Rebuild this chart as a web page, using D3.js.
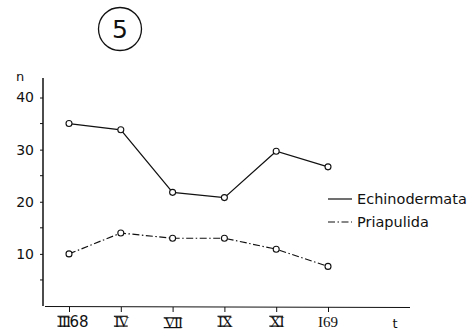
<!DOCTYPE html>
<html><head><meta charset="utf-8">
<script src="https://cdn.jsdelivr.net/npm/d3@7"></script>
<style>body{margin:0;background:#fff}svg{display:block}</style>
</head><body>
<svg id="c" width="472" height="334"></svg>
<script>
const categories = ["III68","IV","VII","IX","XI","I69"];
const romanPart = ["III","IV","VII","IX","XI",""];
const suffixPart = ["68","","","","","I69"];
const echinodermata = [35, 33.8, 21.8, 20.8, 29.7, 26.7];
const priapulida = [10, 14, 13, 13, 10.9, 7.6];
const yTicks = [10, 20, 30, 40];
const yMinor = [5, 15, 25, 35];
const seriesNames = ["Echinodermata", "Priapulida"];

const svg = d3.select("#c");
const font = "'DejaVu Sans', sans-serif";
const serif = "'Liberation Serif', serif";
const x = d3.scalePoint().domain(categories).range([69, 328]);
const y = d3.scaleLinear().domain([0, 40]).range([306, 97.5]);

// panel number
svg.append("circle").attr("cx", 120).attr("cy", 29).attr("r", 21.5)
  .attr("fill", "none").attr("stroke", "#111").attr("stroke-width", 1.3);
svg.append("text").attr("x", 120).attr("y", 38).attr("text-anchor", "middle")
  .attr("font-family", font).attr("font-size", 25).attr("fill", "#111").text("5");

// y axis
const ya = svg.append("g").attr("transform", "translate(43,0)")
  .call(d3.axisLeft(y).tickValues(yTicks).tickSize(3).tickPadding(6).tickFormat(d3.format("d")));
ya.select(".domain").remove();
ya.selectAll("text").attr("font-family", font).attr("font-size", 14).attr("fill", "#111");
ya.selectAll("line").attr("stroke", "#111");
svg.append("g").selectAll("line").data(yMinor).join("line")
  .attr("x1", 40).attr("x2", 43).attr("y1", d => y(d)).attr("y2", d => y(d)).attr("stroke", "#111");
svg.append("line").attr("x1", 43).attr("x2", 43).attr("y1", 78).attr("y2", 306)
  .attr("stroke", "#111").attr("stroke-width", 1.5);
svg.append("text").attr("x", 20).attr("y", 81).attr("text-anchor", "middle")
  .attr("font-family", font).attr("font-size", 13).attr("fill", "#111").text("n");

// x axis
svg.append("line").attr("x1", 45).attr("x2", 410).attr("y1", 306.5).attr("y2", 307.5)
  .attr("stroke", "#111").attr("stroke-width", 1.2);
const xa = svg.append("g").attr("transform", "translate(0,307)")
  .call(d3.axisBottom(x).tickSize(5).tickFormat(""));
xa.select(".domain").remove();
xa.selectAll("line").attr("stroke", "#111");

// tick labels: roman numerals drawn with top/bottom bars
categories.forEach((c, i) => {
  const g = svg.append("g");
  const base = 326.5 + (i === 2 ? 1.5 : 0);
  const r = g.append("text").attr("y", base).attr("font-family", serif)
    .attr("font-size", 15).attr("letter-spacing", -1).attr("fill", "#111").text(romanPart[i]);
  const s = g.append("text").attr("y", base).attr("font-family", i === 5 ? serif : font)
    .attr("font-size", 15).attr("fill", "#111").text(suffixPart[i]);
  const rw = romanPart[i] ? r.node().getComputedTextLength() - 1 : 0;
  const sw = suffixPart[i] ? s.node().getComputedTextLength() : 0;
  const x0 = x(c) - (rw + sw) / 2 + (i === 0 ? 4 : 0);
  r.attr("x", x0);
  s.attr("x", x0 + rw + (i === 0 ? 0.5 : 0));
  if (romanPart[i]) {
    [base - 10.2, base - 0.4].forEach(by => {
      g.append("line").attr("x1", x0 - 0.5).attr("x2", x0 + rw + 0.5)
        .attr("y1", by).attr("y2", by).attr("stroke", "#111").attr("stroke-width", 1.2);
    });
  }
});
svg.append("text").attr("x", 395).attr("y", 328).attr("text-anchor", "middle")
  .attr("font-family", font).attr("font-size", 13).attr("fill", "#111").text("t");

// series
const line = d3.line().x((d, i) => x(categories[i])).y(d => y(d));
const series = [
  {name: seriesNames[0], values: echinodermata, dash: null},
  {name: seriesNames[1], values: priapulida, dash: "7,2.5,1.5,2.5"}
];
series.forEach(s => {
  svg.append("path").datum(s.values).attr("d", line).attr("fill", "none")
    .attr("stroke", "#111").attr("stroke-width", 1.2).attr("stroke-dasharray", s.dash);
  svg.append("g").selectAll("circle").data(s.values).join("circle")
    .attr("cx", (d, i) => x(categories[i])).attr("cy", d => y(d)).attr("r", 3)
    .attr("fill", "#fff").attr("stroke", "#111").attr("stroke-width", 1.1);
});

// legend
series.forEach((s, i) => {
  const ly = 199 + i * 23;
  svg.append("line").attr("x1", 328).attr("x2", 352).attr("y1", ly).attr("y2", ly)
    .attr("stroke", "#111").attr("stroke-width", 1.2).attr("stroke-dasharray", s.dash);
  svg.append("text").attr("x", 357).attr("y", ly + 5).attr("font-family", font)
    .attr("font-size", 14.5).attr("fill", "#111").text(s.name);
});
</script>
</body></html>
